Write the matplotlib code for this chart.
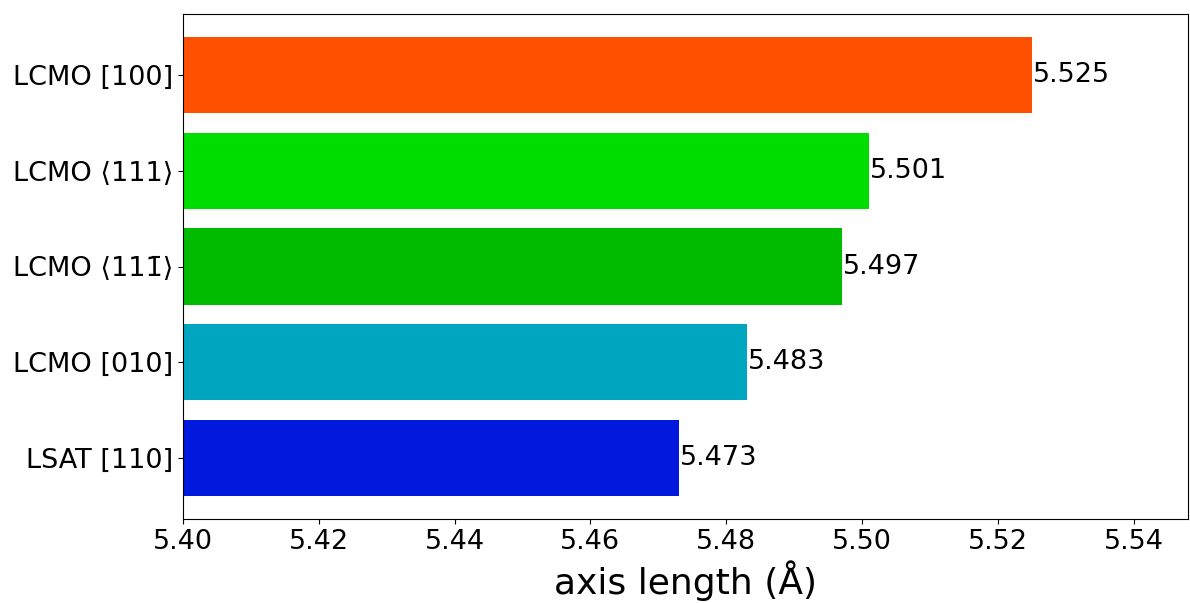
import matplotlib
matplotlib.use('Agg')
import matplotlib.pyplot as plt

labels = ['LSAT [110]', 'LCMO [010]', 'LCMO \u27e811\u0031\u0304\u27e9', 'LCMO \u27e8111\u27e9', 'LCMO [100]']
values = [5.473, 5.483, 5.497, 5.501, 5.525]
colors = ['#0019DD', '#00A5C0', '#00BB00', '#00DD00', '#FF5000']

fig = plt.figure(figsize=(11.9, 6.03), dpi=100)
ax = fig.add_axes([183/1190, 1 - 519/603, (1188-183)/1190, (519-14)/603])

bars = ax.barh(range(len(values)), values, color=colors, height=0.8)
ax.set_yticks(range(len(values)))
ax.set_yticklabels(labels, fontsize=19.5)
ax.bar_label(bars, labels=[f'{v:.3f}' for v in values], fontsize=19.5, padding=1)
ax.set_xlim(5.40, 5.548)
ax.set_xticks([5.40, 5.42, 5.44, 5.46, 5.48, 5.50, 5.52, 5.54])
ax.tick_params(axis='x', labelsize=19.5)
ax.set_xlabel('axis length (\u00c5)', fontsize=26, labelpad=4)

fig.savefig('out.png', dpi=100)
